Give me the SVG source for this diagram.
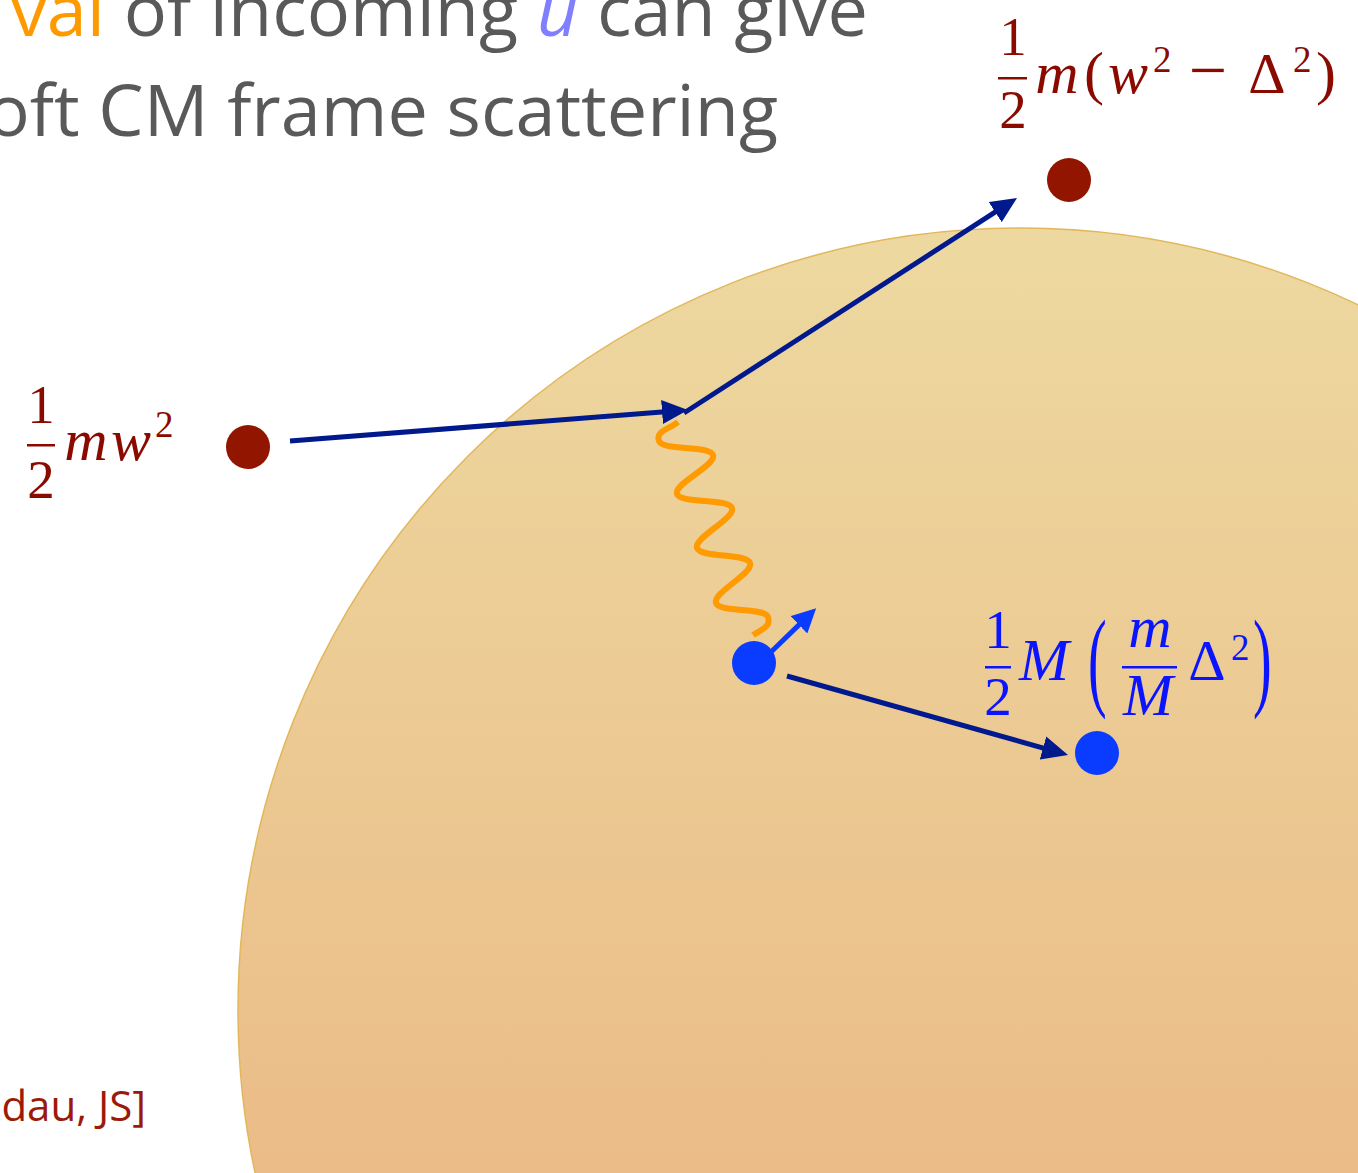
<svg xmlns="http://www.w3.org/2000/svg" width="1358" height="1173" viewBox="0 0 1358 1173">
<style>
.txt{font-family:"Open Sans","Noto Sans",sans-serif;font-size:72px;fill:#595959}
.ref{font-family:"Open Sans","Noto Sans",sans-serif;font-size:42px;fill:#9c1a0a}
.m{font-family:"Liberation Serif","DejaVu Serif",serif;font-size:55px}
.i{font-style:italic;font-size:60px}
.sup{font-size:37px}
.red{fill:#8a0a00}
.blue{fill:#0a14ff}
.conn{stroke:#00198c;stroke-width:5;fill:none}
</style>
<defs>
<linearGradient id="bg" gradientUnits="userSpaceOnUse" x1="0" y1="229" x2="0" y2="1173">
<stop offset="0" stop-color="#edd9a0"/>
<stop offset="1" stop-color="#ebbc87"/>
</linearGradient>
<marker id="ah" markerUnits="userSpaceOnUse" markerWidth="26" markerHeight="24" refX="16" refY="12" orient="auto">
<path d="M0,0 L26,12 L0,24 z" fill="#00198c"/>
</marker>
<marker id="ahs" markerUnits="userSpaceOnUse" markerWidth="24" markerHeight="24" refX="14" refY="12" orient="auto">
<path d="M0,0 L24,12 L0,24 z" fill="#0a3cff"/>
</marker>
</defs>
<rect width="1358" height="1173" fill="#ffffff"/>
<circle id="bubble" cx="1020" cy="1010" r="782" fill="url(#bg)" stroke="#e2b75c" stroke-width="1.5"/>

<g id="title">
<text class="txt" x="868" y="36" text-anchor="end"><tspan fill="#ff9900">val</tspan> of incoming <tspan fill="#7f7fff" font-style="italic">u</tspan> can give</text>
<text class="txt" x="778" y="136" text-anchor="end">oft CM frame scattering</text>
</g>
<g id="reference"><text class="ref" x="146" y="1121" text-anchor="end">dau, JS]</text></g>

<g id="connectors">
<line class="conn" x1="290" y1="441" x2="678" y2="410.8" marker-end="url(#ah)"/>
<line class="conn" x1="684" y1="413" x2="1008.6" y2="203.4" marker-end="url(#ah)"/>
<line class="conn" x1="787" y1="676" x2="1058.4" y2="752.3" marker-end="url(#ah)"/>
<line stroke="#0a3cff" stroke-width="5" x1="770" y1="653" x2="809" y2="615.1" marker-end="url(#ahs)"/>
<path d="M678 422 C670 429 655 431 659 441 C662.6 451.3 709.4 444.7 713 455 C716.6 465.3 673.4 483.7 677 494 C680.6 504.3 728.4 497.7 732 508 C735.6 518.3 693.4 537.7 697 548 C700.6 558.3 746.4 552.7 750 563 C753.6 573.3 712.4 592.7 716 603 C719.6 613.3 764.4 606.7 768 617 C771.6 627.3 760 630 753 635" fill="none" stroke="#ff9a00" stroke-width="6"/>
</g>

<g id="incoming-particle">
<circle cx="248" cy="447" r="22" fill="#921500"/>
<g class="m red">
<text x="41" y="423" text-anchor="middle">1</text>
<rect x="27" y="444" width="28" height="2.5" fill="#8a0a00"/>
<text x="41" y="498" text-anchor="middle">2</text>
<text class="i" x="86" y="460" text-anchor="middle">m</text>
<text class="i" x="131" y="460" text-anchor="middle">w</text>
<text class="sup" x="155" y="437">2</text>
</g>
</g>

<g id="outgoing-particle">
<circle cx="1069" cy="180" r="22" fill="#921500"/>
<g class="m red">
<text x="1013" y="55" text-anchor="middle">1</text>
<rect x="998" y="77" width="29" height="2.5" fill="#8a0a00"/>
<text x="1013" y="128" text-anchor="middle">2</text>
<text class="i" x="1057" y="93" text-anchor="middle">m</text>
<text x="1084" y="93" font-size="60">(</text>
<text class="i" x="1128" y="93" text-anchor="middle">w</text>
<text class="sup" x="1153" y="72">2</text>
<text x="1208" y="93" text-anchor="middle" font-size="68">−</text>
<text x="1267" y="93" text-anchor="middle" font-size="58">Δ</text>
<text class="sup" x="1293" y="72">2</text>
<text x="1316" y="93" font-size="60">)</text>
</g>
</g>

<g id="target-initial">
<circle cx="754" cy="663" r="22" fill="#0a3cff"/>
</g>

<g id="target-final">
<circle cx="1097" cy="753" r="22" fill="#0a3cff"/>
<g class="m blue">
<text x="998" y="648" text-anchor="middle">1</text>
<rect x="985" y="666" width="26" height="2.5" fill="#0a14ff"/>
<text x="998" y="715" text-anchor="middle">2</text>
<text class="i" x="1044" y="680" text-anchor="middle" font-size="57">M</text>
<text transform="translate(1088,696) scale(1,1.95)" x="0" y="0" font-size="56">(</text>
<text class="i" x="1150" y="647" text-anchor="middle">m</text>
<rect x="1122" y="666" width="55" height="2.5" fill="#0a14ff"/>
<text class="i" x="1148" y="715" text-anchor="middle" font-size="57">M</text>
<text x="1207" y="680" text-anchor="middle" font-size="58">Δ</text>
<text class="sup" x="1231" y="660">2</text>
<text transform="translate(1253,696) scale(1,1.95)" x="0" y="0" font-size="56">)</text>
</g>
</g>
</svg>
